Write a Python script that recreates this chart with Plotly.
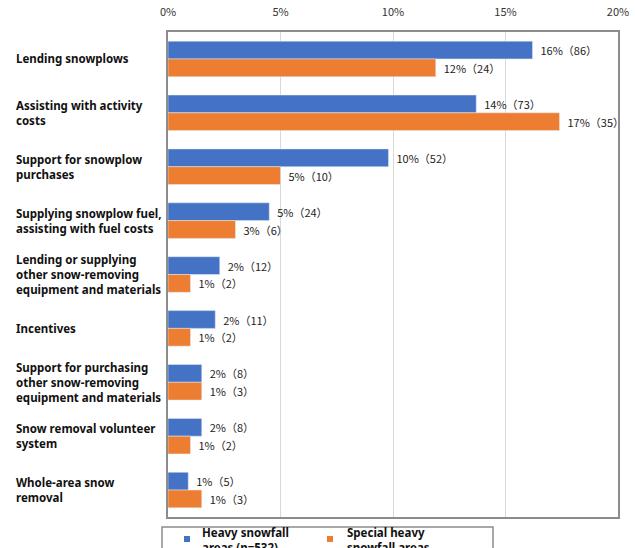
import plotly.graph_objects as go

categories = [
    "Lending snowplows",
    "Assisting with activity<br>costs",
    "Support for snowplow<br>purchases",
    "Supplying snowplow fuel,<br>assisting with fuel costs",
    "Lending or supplying<br>other snow-removing<br>equipment and materials",
    "Incentives",
    "Support for purchasing<br>other snow-removing<br>equipment and materials",
    "Snow removal volunteer<br>system",
    "Whole-area snow<br>removal",
]
heavy_pct = [16.2, 13.7, 9.8, 4.5, 2.3, 2.1, 1.5, 1.5, 0.9]
heavy_n = [86, 73, 52, 24, 12, 11, 8, 8, 5]
heavy_lbl = ["16%", "14%", "10%", "5%", "2%", "2%", "2%", "2%", "1%"]
special_pct = [11.9, 17.4, 5.0, 3.0, 1.0, 1.0, 1.5, 1.0, 1.5]
special_n = [24, 35, 10, 6, 2, 2, 3, 2, 3]
special_lbl = ["12%", "17%", "5%", "3%", "1%", "1%", "1%", "1%", "1%"]
series_names = ["Heavy snowfall<br>areas (n=532)", "Special heavy<br>snowfall areas<br>(n=201)"]
tick_vals = [0, 5, 10, 15, 20]
tick_text = ["0%", "5%", "10%", "15%", "20%"]

BLUE = "#4472C4"
ORANGE = "#ED7D31"
ykeys = [c.replace("<br>", " ") for c in categories]

def labels(pcts, ns):
    return ["\u00a0\u00a0" + p + "（" + str(n) + "）" for p, n in zip(pcts, ns)]

fig = go.Figure()
fig.add_trace(go.Bar(
    y=ykeys, x=heavy_pct, orientation="h", name="heavy",
    marker=dict(color=BLUE), text=labels(heavy_lbl, heavy_n),
    textposition="outside", cliponaxis=False,
    textfont=dict(family="Noto Sans CJK JP", size=11, color="#222"),
))
fig.add_trace(go.Bar(
    y=ykeys, x=special_pct, orientation="h", name="special",
    marker=dict(color=ORANGE), text=labels(special_lbl, special_n),
    textposition="outside", cliponaxis=False,
    textfont=dict(family="Noto Sans CJK JP", size=11, color="#222"),
))

L, R, T, B = 168, 17, 32, 31
W, H = 635, 548
pw = W - L - R
ph = H - T - B

fig.update_layout(
    width=W, height=H,
    margin=dict(l=L, r=R, t=T, b=B, pad=0, autoexpand=False),
    paper_bgcolor="white", plot_bgcolor="white",
    barmode="group", bargap=0.34, bargroupgap=0,
    showlegend=False,
    uniformtext=dict(mode=False),
)
fig.update_xaxes(
    range=[0, 20], side="top", tickvals=tick_vals, ticktext=tick_text,
    showgrid=True, gridcolor="#D9D9D9", gridwidth=1,
    showline=True, linecolor="#8C8C8C", linewidth=1.5, mirror=True,
    ticks="", ticklabelstandoff=10, zeroline=False, automargin=False,
    tickfont=dict(family="Noto Sans CJK JP", size=11, color="#333"),
    fixedrange=True,
)
fig.update_yaxes(
    categoryorder="array", categoryarray=ykeys, autorange="reversed",
    showticklabels=False, ticks="", showgrid=False, automargin=False,
    showline=True, linecolor="#8C8C8C", linewidth=1.5, mirror=True,
    fixedrange=True,
)

for c, k in zip(categories, ykeys):
    fig.add_annotation(
        x=0, xref="paper", y=k, yref="y", xanchor="left", xshift=-154,
        text=c, showarrow=False, align="left",
        font=dict(family="Noto Sans", size=11.5, color="#111", weight="bold"),
    )

# manual legend (extends past the bottom edge like the reference)
def px_x(x):
    return (x - L) / pw
def px_y(y):
    return (H - B - y) / ph

fig.add_shape(type="rect", xref="paper", yref="paper",
              x0=px_x(162), x1=px_x(493), y0=px_y(527), y1=px_y(600),
              line=dict(color="#8C8C8C", width=1.5), fillcolor="white")
for mx, tx, col, name in [(187, 200, BLUE, series_names[0]), (330, 345, ORANGE, series_names[1])]:
    fig.add_shape(type="rect", xref="paper", yref="paper",
                  x0=px_x(mx - 3), x1=px_x(mx + 3), y0=px_y(536), y1=px_y(542),
                  line=dict(width=0), fillcolor=col)
    fig.add_annotation(x=px_x(tx), xref="paper", y=px_y(523), yref="paper",
                       xanchor="left", yanchor="top", text=name, showarrow=False,
                       align="left",
                       font=dict(family="Noto Sans", size=11.5, color="#111", weight="bold"))

fig.write_html("out.html")
